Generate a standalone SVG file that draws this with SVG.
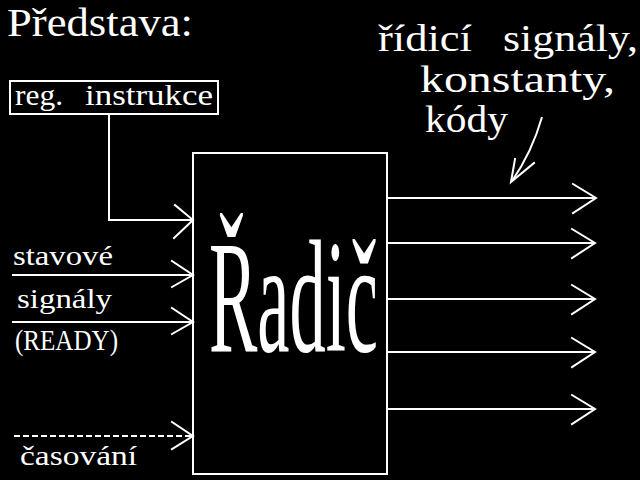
<svg xmlns="http://www.w3.org/2000/svg" width="640" height="480" viewBox="0 0 640 480">
<style>
.ln{stroke:#fff;stroke-width:2;fill:none}
.hd{stroke:#fff;stroke-width:2;fill:none;stroke-linecap:square}
text{fill:#fff;font-family:'Liberation Serif',serif}
#title text,#labels-out text,#reg text,#radic text,#in-labels text{font-family:'Liberation Serif',serif !important}
</style>
<rect width="640" height="480" fill="#000"/>
<text x="7" y="36" font-size="40" textLength="186" lengthAdjust="spacingAndGlyphs">Představa:</text>
<g id="labels-out">
<text x="378" y="51" font-size="38" textLength="94" lengthAdjust="spacingAndGlyphs">řídicí</text>
<text x="503" y="51" font-size="38" textLength="135" lengthAdjust="spacingAndGlyphs">signály,</text>
<text x="420" y="92" font-size="38" textLength="195" lengthAdjust="spacingAndGlyphs">konstanty,</text>
<text x="425" y="132" font-size="38" textLength="83" lengthAdjust="spacingAndGlyphs">kódy</text>
</g>
<g id="reg">
<rect x="10" y="81" width="208" height="33" class="ln"/>
<text x="15" y="105" font-size="30" textLength="48" lengthAdjust="spacingAndGlyphs">reg.</text>
<text x="85" y="105" font-size="30" textLength="128" lengthAdjust="spacingAndGlyphs">instrukce</text>
</g>
<g id="radic">
<rect x="193" y="153" width="194" height="321" class="ln"/>
<text x="209" y="351" font-size="160" textLength="169" lengthAdjust="spacingAndGlyphs">Řadič</text>
</g>
<g id="in-labels">
<text x="13" y="265" font-size="28" textLength="100" lengthAdjust="spacingAndGlyphs">stavové</text>
<text x="17" y="308" font-size="28" textLength="95" lengthAdjust="spacingAndGlyphs">signály</text>
<text x="15" y="350" font-size="30" textLength="103" lengthAdjust="spacingAndGlyphs">(READY)</text>
<text x="20" y="465" font-size="28" textLength="117" lengthAdjust="spacingAndGlyphs">časování</text>
</g>
<g id="connectors">
<polyline class="ln" points="109,115 109,220 193,220"/>
<polyline class="hd" points="175,205 193,220 174,238"/>
<line class="ln" x1="12" y1="275" x2="193" y2="275"/>
<polyline class="hd" points="172,261 193,275 172,287"/>
<line class="ln" x1="12" y1="322" x2="193" y2="322"/>
<polyline class="hd" points="172,308 193,322 172,334"/>
<line class="ln" x1="14" y1="436" x2="193" y2="436" stroke-dasharray="6,3"/>
<polyline class="hd" points="172,422 193,436 172,449"/>
<line class="ln" x1="387" y1="198" x2="596" y2="198" stroke-width="3"/>
<polyline class="hd" points="573,184 596,198 573,213"/>
<line class="ln" x1="387" y1="243" x2="595" y2="243"/>
<polyline class="hd" points="572,229 595,243 572,258"/>
<line class="ln" x1="387" y1="299" x2="595" y2="299"/>
<polyline class="hd" points="572,285 595,299 572,314"/>
<line class="ln" x1="387" y1="352" x2="595" y2="352"/>
<polyline class="hd" points="572,338 595,352 572,367"/>
<line class="ln" x1="387" y1="409" x2="595" y2="409"/>
<polyline class="hd" points="572,395 595,409 572,424"/>
<path class="ln" d="M542,117 Q532,152 512,181" stroke-width="3"/>
<polyline class="hd" points="515,159 511,182 534,163" stroke-width="3"/>
</g>
</svg>
